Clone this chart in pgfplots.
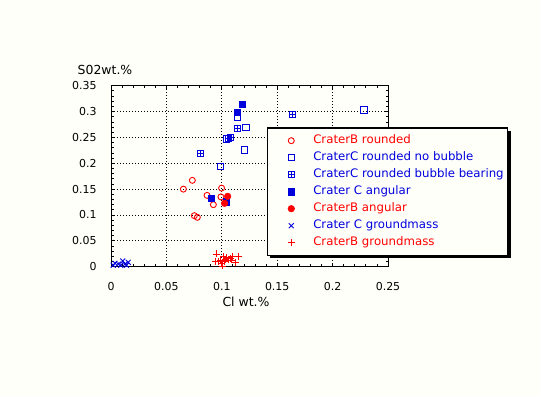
\documentclass[border=0pt]{standalone}
\usepackage{fontspec}
\setmainfont{DejaVu Sans}
\usepackage{pgfplots}
\pgfplotsset{compat=1.18}
\usetikzlibrary{shadows,plotmarks}
\definecolor{mred}{RGB}{255,0,0}
\definecolor{mblue}{RGB}{0,0,221}
\definecolor{bg}{RGB}{255,255,250}
\pgfdeclareplotmark{boxplus}{%
 \pgfpathrectangle{\pgfpoint{-\pgfplotmarksize}{-\pgfplotmarksize}}{\pgfpoint{2\pgfplotmarksize}{2\pgfplotmarksize}}%
 \pgfpathmoveto{\pgfpoint{-\pgfplotmarksize}{0pt}}\pgfpathlineto{\pgfpoint{\pgfplotmarksize}{0pt}}%
 \pgfpathmoveto{\pgfpoint{0pt}{-\pgfplotmarksize}}\pgfpathlineto{\pgfpoint{0pt}{\pgfplotmarksize}}%
 \pgfusepathqstroke}
\pgfplotsset{legimg/.style={legend image code/.code={\pgfpathmoveto{\pgfpointorigin}\pgfpathlineto{\pgfpoint{30bp}{0bp}}\pgfusepath{}\draw[##1, only marks] plot coordinates {(20bp,0bp)};}}}
\begin{document}
\begin{tikzpicture}[x=1bp,y=1bp]
\fill[bg] (-111,-129.3) rectangle (429,266.7);
\begin{axis}[
  at={(0,0)}, anchor=south west,
  scale only axis, width=277bp, height=181bp,
  xmin=0, xmax=0.25, ymin=0, ymax=0.35,
  xtick={0,0.05,0.1,0.15,0.2,0.25},
  ytick={0,0.05,0.1,0.15,0.2,0.25,0.3,0.35},
  minor tick num=4,
  tick align=inside,
  xtick pos=both, ytick pos=both,
  major tick length=4bp, minor tick length=2.5bp,
  grid=major,
  major grid style={black, dash pattern=on 1bp off 2bp, line width=0.8bp},
  axis line style={line width=1bp},
  tick style={black, line width=0.8bp},
  ticklabel style={font=\fontsize{11}{13}\selectfont},
  /pgf/number format/assume math mode=true,
  /pgf/number format/fixed, /pgf/number format/precision=2,
  scaled ticks=false,
  yticklabel style={xshift=-11bp},
  xticklabel style={yshift=-12.5bp},
  legend style={at={(0.562,0.770)}, anchor=north west, draw=black, line width=1.2bp,
    fill=bg, inner xsep=4bp, inner ysep=7bp,
    drop shadow={shadow xshift=3bp, shadow yshift=-3bp, fill=black, opacity=1},
    nodes={inner sep=0bp, text height=9bp, text depth=2.5bp, font=\fontsize{11.8}{14}\selectfont},
    row sep=5.5bp, column sep=12bp},
  legend cell align=left,
]
\addplot[only marks, mark=o, mark size=3bp, color=mred, mark options={line width=0.9bp}, legimg] coordinates {
(0.0734,0.167) (0.0653,0.150) (0.0998,0.152) (0.0867,0.138) (0.0992,0.135) (0.0924,0.120) (0.0752,0.0987) (0.0779,0.0955)};
\addlegendentry{\textcolor{mred}{CraterB rounded}}
\addplot[only marks, mark=square, mark size=3.2bp, color=mblue, mark options={line width=0.9bp}, legimg] coordinates {
(0.2283,0.3028) (0.114,0.2886) (0.1218,0.2696) (0.1203,0.2257) (0.0987,0.1935) (0.1040,0.2470)};
\addlegendentry{\textcolor{mblue}{CraterC rounded no bubble}}
\addplot[only marks, mark=boxplus, mark size=3.2bp, color=mblue, mark options={line width=0.9bp}, legimg] coordinates {
(0.1636,0.294) (0.114,0.2677) (0.1062,0.248) (0.1077,0.250) (0.0806,0.219)};
\addlegendentry{\textcolor{mblue}{CraterC rounded bubble bearing}}
\addplot[only marks, mark=square*, mark size=3.3bp, color=mblue, mark options={line width=0.5bp, fill=mblue}, legimg] coordinates {
(0.1185,0.314) (0.114,0.2986) (0.0904,0.1327) (0.1041,0.1257)};
\addlegendentry{\textcolor{mblue}{Crater C angular}}
\addplot[only marks, mark=*, mark size=3.3bp, color=mred, mark options={line width=0.5bp, fill=mred}, legimg] coordinates {
(0.1053,0.1361) (0.1025,0.1226)};
\addlegendentry{\textcolor{mred}{CraterB angular}}
\addplot[only marks, mark=x, mark size=3.5bp, color=mblue, mark options={line width=0.9bp}, legimg] coordinates {
(0.0106,0.011) (0.0036,0.0066) (0.0066,0.005) (0.0126,0.005) (0.0156,0.0085) (0.002,0.003) (0.0088,0.003) (0.014,0.003)};
\addlegendentry{\textcolor{mblue}{Crater C groundmass}}
\addplot[only marks, mark=+, mark size=3.5bp, color=mred, mark options={line width=0.9bp}, legimg] coordinates {
(0.0948,0.0246) (0.0939,0.0104) (0.0984,0.013) (0.1014,0.0194) (0.1029,0.0143) (0.1044,0.018) (0.1074,0.016) (0.1098,0.019) (0.1149,0.019) (0.1125,0.009) (0.0999,0.0066) (0.0969,0.0097) (0.102,0.0097) (0.1059,0.013) (0.1005,0.0014) (0.109,0.013)};
\addlegendentry{\textcolor{mred}{CraterB groundmass}}
\end{axis}
\node[font=\fontsize{12.5}{14}\selectfont] at (-6,196.7) {S02wt.\%};
\node[font=\fontsize{12.5}{14}\selectfont] at (135,-35.3) {Cl wt.\%};
\end{tikzpicture}
\end{document}
